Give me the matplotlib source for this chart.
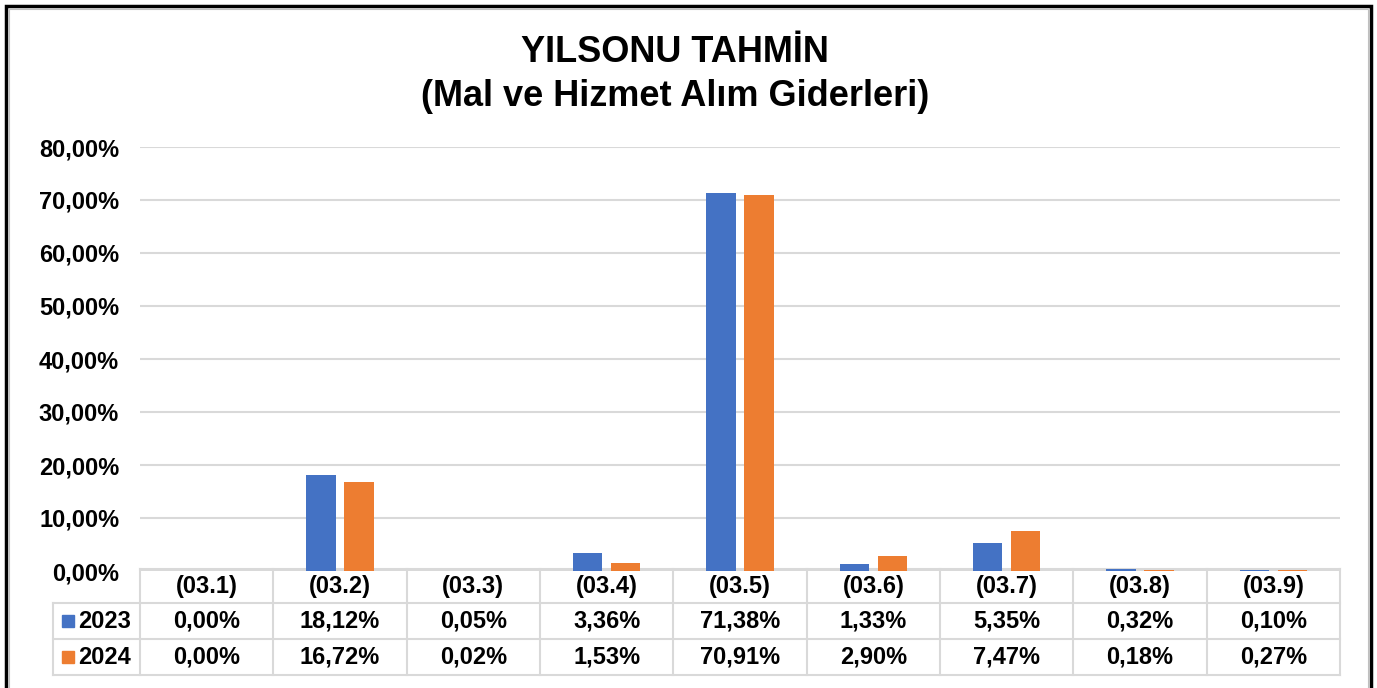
import matplotlib.pyplot as plt
from matplotlib.patches import Rectangle
import numpy as np

# Daten
kategorien = ["(03.1)", "(03.2)", "(03.3)", "(03.4)", "(03.5)", "(03.6)", "(03.7)", "(03.8)", "(03.9)"]
jahre = ["2023", "2024"]
werte_2023 = [0.00, 18.12, 0.05, 3.36, 71.38, 1.33, 5.35, 0.32, 0.10]
werte_2024 = [0.00, 16.72, 0.02, 1.53, 70.91, 2.90, 7.47, 0.18, 0.27]
y_ticks = [0, 10, 20, 30, 40, 50, 60, 70, 80]

farben = ["#4472C4", "#ED7D31"]
gitter = "#D9D9D9"

plt.rcParams['font.family'] = ['Liberation Sans', 'DejaVu Sans']
plt.rcParams['font.weight'] = 'bold'


def fmt(v):
    return f"{v:.2f}".replace(".", ",") + "%"


fig = plt.figure(figsize=(13.77, 6.88), dpi=100)
ax = fig.add_axes([140 / 1377, 117 / 688, 1200 / 1377, 424 / 688])

x = np.arange(len(kategorien))
ax.bar(x - 0.143, werte_2023, width=0.22, color=farben[0], zorder=3)
ax.bar(x + 0.143, werte_2024, width=0.22, color=farben[1], zorder=3)

ax.set_xlim(-0.5, len(kategorien) - 0.5)
ax.set_ylim(0, 80)
ax.set_yticks(y_ticks)
ax.set_yticklabels([fmt(v) for v in y_ticks], fontsize=17, fontweight='bold')
ax.tick_params(axis='y', length=0, pad=15)
ax.set_xticks([])
ax.grid(axis='y', color=gitter, linewidth=1.5, zorder=0)
for s in ax.spines.values():
    s.set_visible(False)

# Datentabelle unter dem Diagramm (x in Datenkoordinaten, y in Achsenkoordinaten)
tr = ax.get_xaxis_transform()
px = lambda yp: (571 - yp) / 424          # Pixelzeile -> Achsenkoordinate
links = -0.5 - 87 / (1200 / len(kategorien))
rechts = len(kategorien) - 0.5
zeilen = [569, 603, 639, 675]
lk = dict(color=gitter, linewidth=1.5, transform=tr, clip_on=False)

ax.plot([-0.5, rechts], [px(zeilen[0])] * 2, **lk)
for yp in zeilen[1:]:
    ax.plot([links, rechts], [px(yp)] * 2, **lk)
ax.plot([links, links], [px(zeilen[1]), px(zeilen[3])], **lk)
for xi in np.arange(len(kategorien) + 1) - 0.5:
    ax.plot([xi, xi], [px(zeilen[0]), px(zeilen[3])], **lk)

for i, k in enumerate(kategorien):
    ax.text(i, px(586), k, ha='center', va='center', fontsize=17,
            fontweight='bold', transform=tr)
    ax.text(i, px(621), fmt(werte_2023[i]), ha='center', va='center', fontsize=17,
            fontweight='bold', transform=tr)
    ax.text(i, px(657), fmt(werte_2024[i]), ha='center', va='center', fontsize=17,
            fontweight='bold', transform=tr)

# Jahre mit Legendenquadraten
for i, (j, f) in enumerate(zip(jahre, farben)):
    yc = 621 + i * 36
    fig.text(131 / 1377, 1 - yc / 688, j, ha='right', va='center', fontsize=17,
             fontweight='bold')
    fig.patches.append(Rectangle((62 / 1377, (688 - yc - 6) / 688), 12 / 1377, 12 / 688,
                                 transform=fig.transFigure, color=f))

# Titel
fig.text(675 / 1377, 1 - 52 / 688, "YILSONU TAHMİN", ha='center', va='center',
         fontsize=26, fontweight='bold')
fig.text(675 / 1377, 1 - 97 / 688, "(Mal ve Hizmet Alım Giderleri)", ha='center', va='center',
         fontsize=26, fontweight='bold')

# Rahmen
fig.patches.append(Rectangle((6 / 1377, -0.05), 1365 / 1377, 1.05 - 6 / 688,
                             transform=fig.transFigure, fill=False, edgecolor='black', linewidth=2.5))
fig.patches.append(Rectangle((9 / 1377, -0.05), 1359 / 1377, 1.05 - 9 / 688,
                             transform=fig.transFigure, fill=False, edgecolor='#BFBFBF', linewidth=0.8))

fig.savefig("out.png", dpi=100)
